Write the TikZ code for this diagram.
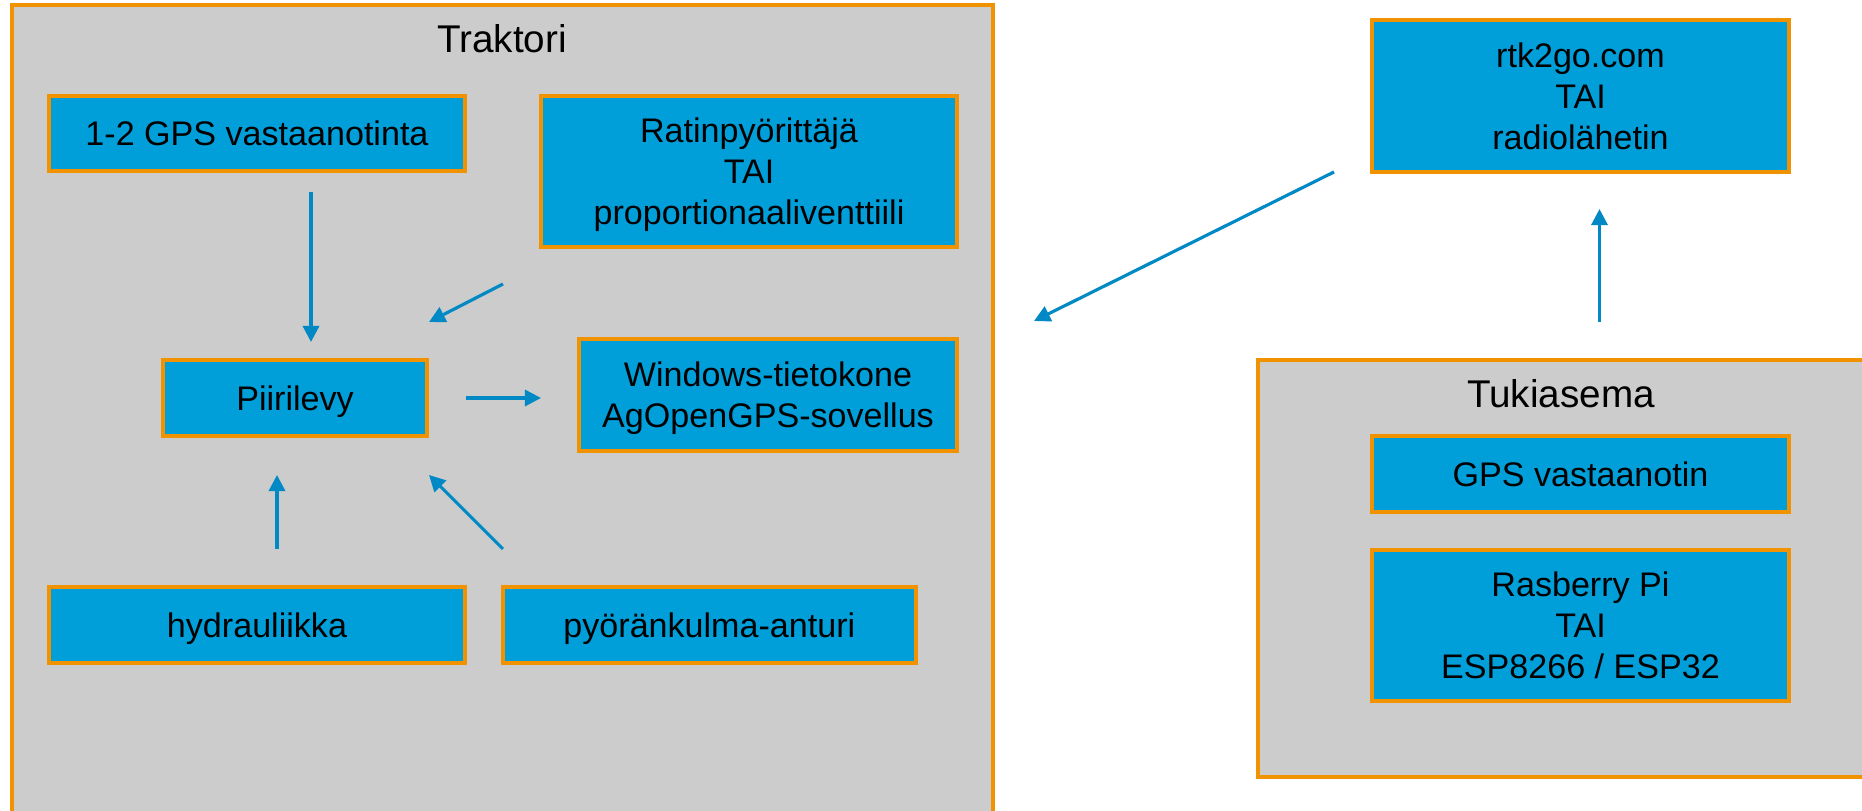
\documentclass[tikz,border=0pt]{standalone}
\usepackage{fontspec}
\setmainfont{Liberation Sans}
\usepackage{tikz}
\usetikzlibrary{arrows.meta,positioning}
\definecolor{boxblue}{RGB}{0,159,218}
\definecolor{rimorange}{RGB}{241,147,0}
\definecolor{framegray}{RGB}{204,204,204}
\definecolor{arrowblue}{RGB}{0,137,196}
\tikzstyle{part} = [rectangle, draw=rimorange, line width=1.1pt, fill=boxblue, text=black, align=center, inner sep=0pt, text depth=0pt, font=\fontsize{9.7}{11.7}\selectfont]
\tikzstyle{housing} = [draw=rimorange, line width=1.1pt, fill=framegray]
\tikzstyle{frametitle} = [draw=none, fill=none, font=\fontsize{11}{13}\selectfont]
\tikzstyle{tedge} = [draw=arrowblue, line width=0.9pt, -{Triangle[length=4.6pt,width=4.6pt]}]

\begin{document}
\begin{tikzpicture}[x=0.1mm, y=-0.1mm]
\useasboundingbox (0,0) rectangle (1862,811);
\clip (0,0) rectangle (1862,811);

% frames =============================
\path[housing] (12,5) rectangle (993,830);
\path[housing] (1258,360) rectangle (1880,777);
\node[frametitle] (traktori) at (502,39) {Traktori};
\node[frametitle] (tukiasema) at (1561,394) {Tukiasema};

% tractor
\node[part, minimum width=41.6mm, minimum height=7.5mm] (gps1) at (257,133.5) {1-2 GPS vastaanotinta};
\node[part, minimum width=41.6mm, minimum height=15.1mm] (ratin) at (749,171.5) {Ratinpyörittäjä\\TAI\\proportionaaliventtiili};
\node[part, minimum width=26.4mm, minimum height=7.6mm] (piiri) at (295,398) {Piirilevy};
\node[part, minimum width=37.8mm, minimum height=11.2mm] (win) at (768,395) {Windows-tietokone\\AgOpenGPS-sovellus};
\node[part, minimum width=41.6mm, minimum height=7.6mm] (hydr) at (257,625) {hydrauliikka};
\node[part, minimum width=41.3mm, minimum height=7.6mm, right=3.4mm of hydr] (pyor) {pyöränkulma-anturi};

% base station
\node[part, minimum width=41.7mm, minimum height=15.2mm] (rtk) at (1580.5,96) {rtk2go.com\\TAI\\radiolähetin};
\node[part, minimum width=41.7mm, minimum height=7.6mm] (gpsb) at (1580.5,474) {GPS vastaanotin};
\node[part, minimum width=41.7mm, minimum height=15.1mm, below=3.4mm of gpsb] (rasb) {Rasberry Pi\\TAI\\ESP8266 / ESP32};

% arrow ends
\coordinate (gps1a) at (311,192);
\coordinate (gps1b) at (311,342);
\coordinate (ratina) at (503,284);
\coordinate (ratinb) at (429,322);
\coordinate (piiria) at (466,398);
\coordinate (piirib) at (541,398);
\coordinate (hydra) at (277,549);
\coordinate (hydrb) at (277,475);
\coordinate (pyora) at (503,549);
\coordinate (pyorb) at (429,475);
\coordinate (rtka) at (1334,172);
\coordinate (rtkb) at (1034,321);
\coordinate (tukia) at (1599.5,322);
\coordinate (tukib) at (1599.5,209);

%edges
\path[tedge] (gps1a) -- (gps1b);
\path[tedge] (ratina) -- (ratinb);
\path[tedge] (piiria) -- (piirib);
\path[tedge] (hydra) -- (hydrb);
\path[tedge] (pyora) -- (pyorb);
\path[tedge] (rtka) -- (rtkb);
\path[tedge] (tukia) -- (tukib);

\end{tikzpicture}
\end{document}
